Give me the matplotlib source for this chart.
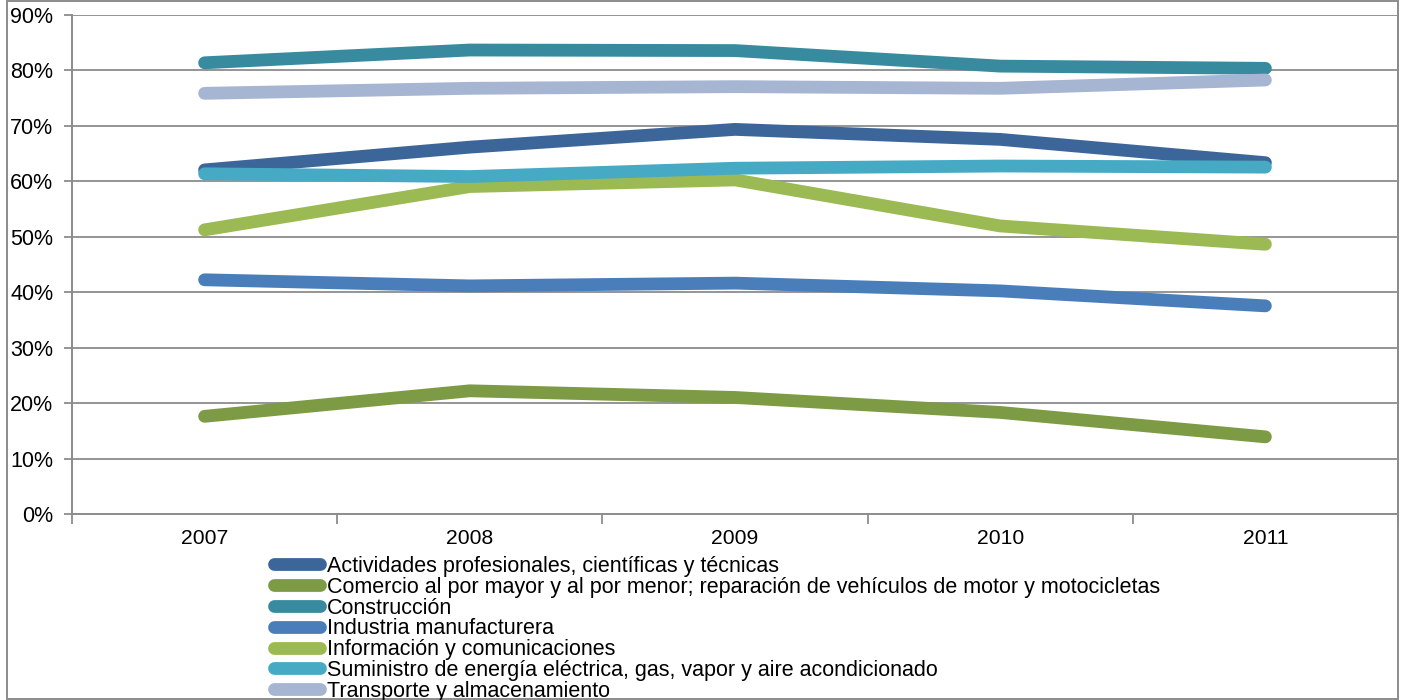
import matplotlib
matplotlib.use("Agg")
import matplotlib.pyplot as plt
from matplotlib.patches import Rectangle
from matplotlib.ticker import FixedLocator, PercentFormatter

plt.rcParams['font.family'] = ['Liberation Sans', 'DejaVu Sans']

years = ["2007", "2008", "2009", "2010", "2011"]

actividades = [62.0, 66.1, 69.3, 67.5, 63.3]
comercio = [17.6, 22.2, 21.0, 18.3, 13.9]
construccion = [81.3, 83.6, 83.5, 80.7, 80.3]
industria = [42.2, 41.1, 41.6, 40.2, 37.5]
informacion = [51.2, 59.0, 60.2, 51.9, 48.6]
suministro = [61.3, 60.8, 62.3, 62.7, 62.5]
transporte = [75.8, 76.7, 77.0, 76.7, 78.2]

series_names = [
    "Actividades profesionales, científicas y técnicas",
    "Comercio al por mayor y al por menor; reparación de vehículos de motor y motocicletas",
    "Construcción",
    "Industria manufacturera",
    "Información y comunicaciones",
    "Suministro de energía eléctrica, gas, vapor y aire acondicionado",
    "Transporte y almacenamiento",
]
series_values = [actividades, comercio, construccion, industria,
                 informacion, suministro, transporte]
series_colors = ["#3C6699", "#7D9A45", "#388B9F", "#4A7EBA",
                 "#9BBA54", "#46AAC4", "#A5B5D2"]

fig = plt.figure(figsize=(14.03, 7.0), dpi=100)
fig.patch.set_facecolor("white")

# outer chart frame
fig.add_artist(Rectangle((7 / 1403, 0.0015), (1398 - 7) / 1403, 0.9970,
                         transform=fig.transFigure, fill=False,
                         edgecolor="#8C8C8C", linewidth=1.4))

ax = fig.add_axes([72 / 1403, 1 - 514 / 700, (1398 - 72) / 1403, (514 - 14.5) / 700])
ax.set_facecolor("white")

x = list(range(len(years)))
for name, vals, col in zip(series_names, series_values, series_colors):
    ax.plot(x, vals, color=col, linewidth=9.2, solid_capstyle="round",
            solid_joinstyle="round", label=name, zorder=3)

ax.set_xlim(-0.5, len(years) - 0.5)
ax.set_ylim(0, 90)
ax.set_yticks(range(0, 91, 10))
ax.yaxis.set_major_formatter(PercentFormatter(decimals=0))
ax.yaxis.grid(True, color="#8C8C8C", linewidth=1.3, zorder=1)
ax.set_axisbelow(True)

# category labels centred, tick marks on category boundaries
ax.set_xticks(x)
ax.set_xticklabels(years)
ax.xaxis.set_minor_locator(FixedLocator([i - 0.5 for i in range(len(years) + 1)]))
ax.tick_params(axis="x", which="major", length=0, pad=11, labelsize=15.2, labelcolor="black")
ax.tick_params(axis="x", which="minor", length=7, width=1.3, color="#8C8C8C", direction="out")
ax.tick_params(axis="y", length=6, width=1.3, color="#8C8C8C", pad=7.5, labelsize=15.5,
               labelcolor="black")

ax.spines["top"].set_visible(False)
for side in ["left", "bottom", "right"]:
    ax.spines[side].set_color("#8C8C8C")
    ax.spines[side].set_linewidth(1.4)

leg = fig.legend(loc="upper left", bbox_to_anchor=(274 / 1403, 1 - 556 / 700),
                 frameon=False, fontsize=15.5, handlelength=2.14, handletextpad=0.3,
                 labelspacing=-0.01, borderpad=0, borderaxespad=0)
for line in leg.get_lines():
    line.set_linewidth(9.2)
    line.set_solid_capstyle("round")

fig.savefig("out.png", dpi=100, facecolor="white")
